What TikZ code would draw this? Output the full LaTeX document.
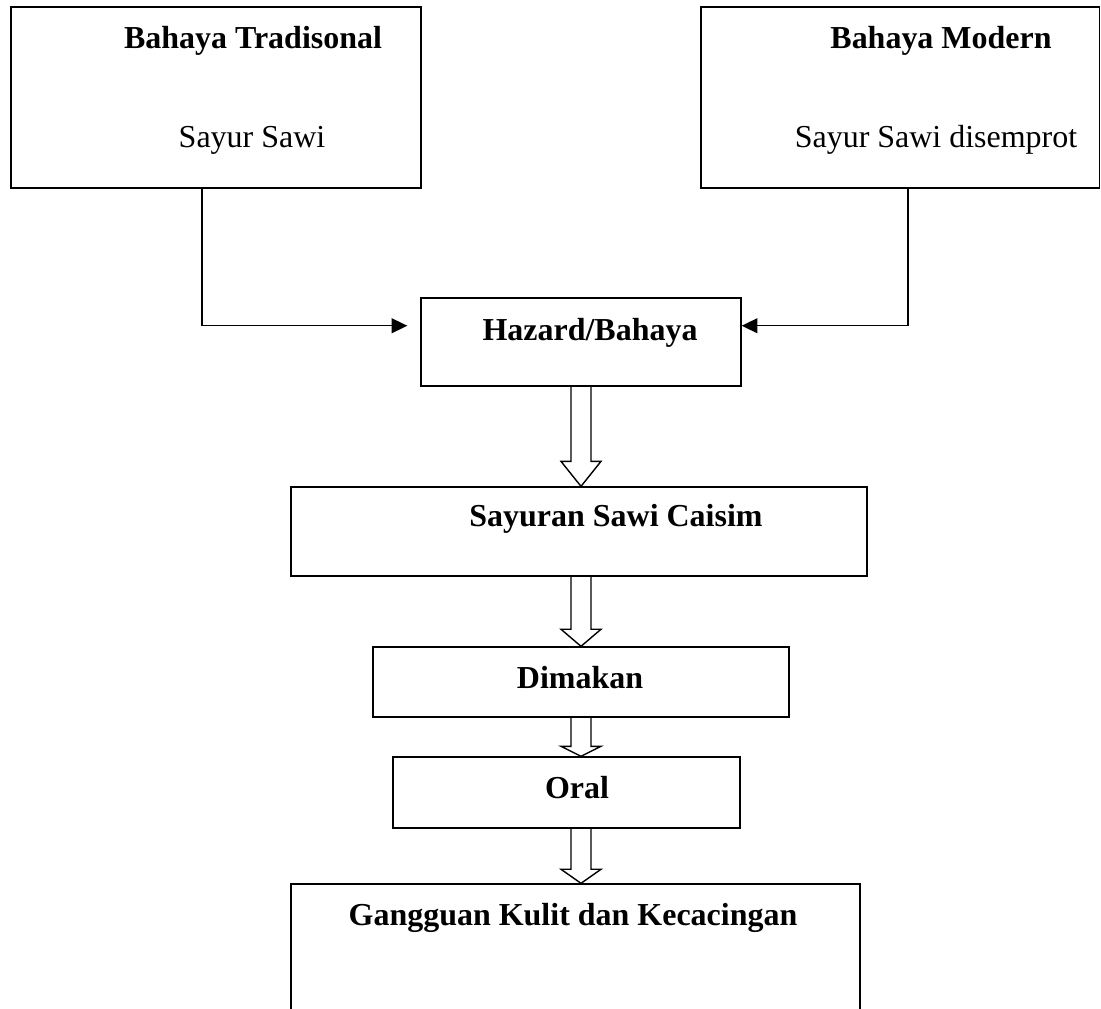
\documentclass[tikz,border=0pt]{standalone}
\usepackage{fontspec}
\setmainfont{Liberation Serif}
\usetikzlibrary{arrows.meta,calc}
\tikzset{
  box/.style={draw, line width=0.8pt, rectangle, inner sep=0pt},
  lbl/.style={anchor=base, inner sep=0pt, font=\fontsize{18.2pt}{22pt}\selectfont},
  blbl/.style={lbl, font=\fontsize{18.2pt}{22pt}\selectfont\bfseries},
  conn/.style={line width=0.8pt, -{Triangle[length=9pt,width=8.5pt]}},
  fat/.style={line width=0.8pt, line join=miter},
}
\newcommand{\fatarrow}[3]{%
  \draw[fat] let \p1=(#1.south), \p2=(#2.north), \p3=(hz.south) in
    ({\x3-5.69pt},\y1) -- ({\x3-5.69pt},{\y2+#3}) -- ({\x3-11.38pt},{\y2+#3}) -- (\x3,\y2)
    -- ({\x3+11.38pt},{\y2+#3}) -- ({\x3+5.69pt},{\y2+#3}) -- ({\x3+5.69pt},\y1);
}
\begin{document}
\begin{tikzpicture}[x=0.02cm,y=-0.02cm]
\useasboundingbox (0,0) rectangle (1101,1008);
\clip (0,0) rectangle (1101,1008);
% boxes
\node[box, minimum width=8.2cm, minimum height=3.62cm] (lb) at (216,97.5) {};
\node[box, minimum width=7.97cm, minimum height=3.62cm] (rb) at (900.25,97.5) {};
\node[box, minimum width=6.4cm, minimum height=1.76cm] (hz) at (581,342) {};
\node[box, minimum width=11.52cm, minimum height=1.78cm] (sc) at (579,531.5) {};
\node[box, minimum width=8.32cm, minimum height=1.4cm] (dm) at (581,682) {};
\node[box, minimum width=6.94cm, minimum height=1.42cm] (or) at (566.5,792.5) {};
\node[box, minimum width=11.38cm, minimum height=2.92cm] (gk) at (575.5,957) {};
% texts
\node[blbl] (lbt) at (253,48) {Bahaya Tradisonal};
\node[lbl] (lbs) at (252,147) {Sayur Sawi};
\node[blbl] (rbt) at (941,48) {Bahaya Modern};
\node[lbl] (rbs) at (936,147) {Sayur Sawi disemprot};
\node[blbl] (hzt) at (590,340) {Hazard/Bahaya};
\node[blbl] (sct) at (616,526) {Sayuran Sawi Caisim};
\node[blbl] (dmt) at (580,688) {Dimakan};
\node[blbl] (ort) at (577,798) {Oral};
\node[blbl] (gkt) at (573,925) {Gangguan Kulit dan Kecacingan};
% connectors
\coordinate (lbout) at (202,188);
\coordinate (rbout) at (908,188);
\draw[conn, shorten >=7.4pt] (lbout) |- ($(hz.north west)!0.318!(hz.south west)$);
\draw[conn] (rbout) |- ($(hz.north east)!0.318!(hz.south east)$);
% block arrows
\fatarrow{hz}{sc}{14.2pt}
\fatarrow{sc}{dm}{9.7pt}
\fatarrow{dm}{or}{5.7pt}
\fatarrow{or}{gk}{8pt}
\end{tikzpicture}
\end{document}
